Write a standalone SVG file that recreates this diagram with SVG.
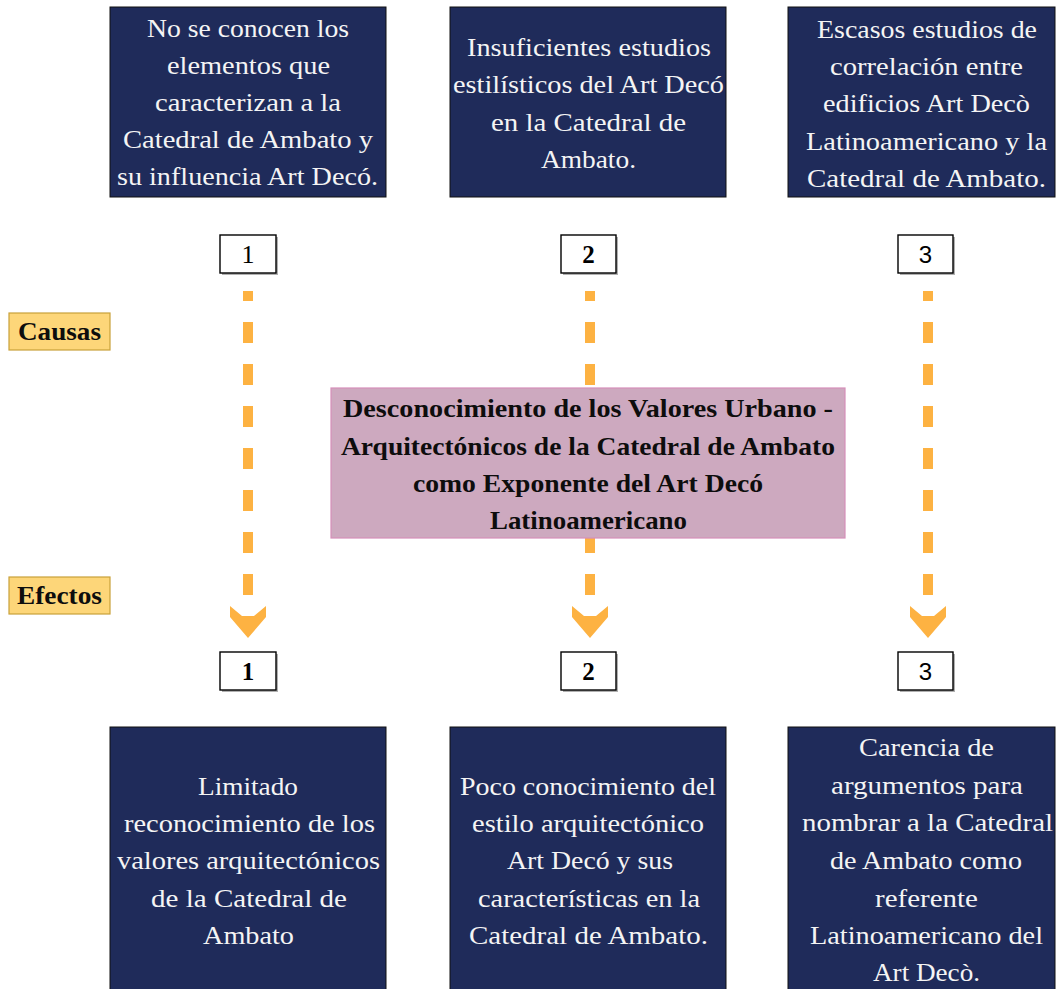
<svg xmlns="http://www.w3.org/2000/svg" width="1057" height="989" viewBox="0 0 1057 989">
<style>
.bg{fill:#ffffff}
.main{fill:#1f2b5a;stroke:#111111;stroke-width:1}
.wt{font-family:"Liberation Serif","DejaVu Serif",serif;font-size:25.5px;fill:#f4f4f4}
.bt{font-family:"Liberation Serif","DejaVu Serif",serif;font-size:25.5px;font-weight:bold;fill:#0d0d0d}
.center{fill:#cda9bf;stroke:#d68fb9;stroke-width:1.2}
.lab{fill:#fdd679;stroke:#c9a13a;stroke-width:1.2}
.num{fill:#ffffff;stroke:#000000;stroke-width:1.4}
.shadow{fill:#b0b0b0}
.ns{font-family:"Liberation Serif",serif;font-size:26px;fill:#000000}
.nsb{font-family:"Liberation Serif",serif;font-size:25px;font-weight:bold;fill:#000000}
.na{font-family:"Liberation Sans",Arial,sans-serif;font-size:24px;fill:#000000}
.dash{stroke:#fdb242;stroke-width:10;fill:none;stroke-dasharray:21 21;stroke-dashoffset:11}
.head{fill:#fdb242}
</style>
<rect class="bg" x="0" y="0" width="1057" height="989"/>

<g id="connectors">
  <path class="dash" d="M248,291 V596"/>
  <path class="dash" d="M590,291 V596"/>
  <path class="dash" d="M928,291 V596"/>
  <polygon class="head" points="230,606 242,616 254,616 266,606 266,617 248,638 230,617"/>
  <polygon class="head" points="572,606 584,616 596,616 608,606 608,617 590,638 572,617"/>
  <polygon class="head" points="910,606 922,616 934,616 946,606 946,617 928,638 910,617"/>
</g>

<g id="cause1">
  <rect class="main" x="110" y="7" width="276" height="190"/>
  <text class="wt" x="147" y="37" textLength="202" lengthAdjust="spacingAndGlyphs">No se conocen los</text>
  <text class="wt" x="167" y="74" textLength="163" lengthAdjust="spacingAndGlyphs">elementos que</text>
  <text class="wt" x="155" y="111" textLength="186" lengthAdjust="spacingAndGlyphs">caracterizan a la</text>
  <text class="wt" x="123" y="148" textLength="250" lengthAdjust="spacingAndGlyphs">Catedral de Ambato y</text>
  <text class="wt" x="117" y="185" textLength="261" lengthAdjust="spacingAndGlyphs">su influencia Art Decó.</text>
</g>

<g id="cause2">
  <rect class="main" x="450" y="7" width="276" height="190"/>
  <text class="wt" x="467" y="56" textLength="244" lengthAdjust="spacingAndGlyphs">Insuficientes estudios</text>
  <text class="wt" x="453" y="93" textLength="271" lengthAdjust="spacingAndGlyphs">estilísticos del Art Decó</text>
  <text class="wt" x="491" y="131" textLength="195" lengthAdjust="spacingAndGlyphs">en la Catedral de</text>
  <text class="wt" x="541" y="168" textLength="95" lengthAdjust="spacingAndGlyphs">Ambato.</text>
</g>

<g id="cause3">
  <rect class="main" x="788" y="7" width="267" height="190"/>
  <text class="wt" x="817" y="38" textLength="220" lengthAdjust="spacingAndGlyphs">Escasos estudios de</text>
  <text class="wt" x="830" y="75" textLength="193" lengthAdjust="spacingAndGlyphs">correlación entre</text>
  <text class="wt" x="823" y="112" textLength="207" lengthAdjust="spacingAndGlyphs">edificios Art Decò</text>
  <text class="wt" x="806" y="150" textLength="241" lengthAdjust="spacingAndGlyphs">Latinoamericano y la</text>
  <text class="wt" x="807" y="187" textLength="239" lengthAdjust="spacingAndGlyphs">Catedral de Ambato.</text>
</g>

<g id="num-top-1">
  <rect class="shadow" x="222" y="237" width="56" height="38"/>
  <rect class="num" x="220" y="235" width="56" height="38"/>
  <text class="ns" x="248" y="263" text-anchor="middle">1</text>
</g>
<g id="num-top-2">
  <rect class="shadow" x="563" y="237" width="55" height="38"/>
  <rect class="num" x="561" y="235" width="55" height="38"/>
  <text class="nsb" x="588.5" y="263" text-anchor="middle">2</text>
</g>
<g id="num-top-3">
  <rect class="shadow" x="900" y="237" width="55" height="38"/>
  <rect class="num" x="898" y="235" width="55" height="38"/>
  <text class="na" x="925.5" y="263" text-anchor="middle">3</text>
</g>

<g id="label-causas">
  <rect class="lab" x="9" y="313" width="101" height="37"/>
  <text class="bt" x="18" y="340" textLength="83" lengthAdjust="spacingAndGlyphs">Causas</text>
</g>
<g id="label-efectos">
  <rect class="lab" x="9" y="577" width="101" height="37"/>
  <text class="bt" x="17" y="604" textLength="85" lengthAdjust="spacingAndGlyphs">Efectos</text>
</g>

<g id="problem">
  <rect class="center" x="331" y="388" width="514" height="150"/>
  <text class="bt" x="343" y="417" textLength="490" lengthAdjust="spacingAndGlyphs">Desconocimiento de los Valores Urbano -</text>
  <text class="bt" x="341" y="455" textLength="494" lengthAdjust="spacingAndGlyphs">Arquitectónicos de la Catedral de Ambato</text>
  <text class="bt" x="413" y="492" textLength="350" lengthAdjust="spacingAndGlyphs">como Exponente del Art Decó</text>
  <text class="bt" x="490" y="529" textLength="197" lengthAdjust="spacingAndGlyphs">Latinoamericano</text>
</g>

<g id="num-bot-1">
  <rect class="shadow" x="222" y="654" width="56" height="38"/>
  <rect class="num" x="220" y="652" width="56" height="38"/>
  <text class="nsb" x="248" y="680" text-anchor="middle">1</text>
</g>
<g id="num-bot-2">
  <rect class="shadow" x="563" y="654" width="55" height="38"/>
  <rect class="num" x="561" y="652" width="55" height="38"/>
  <text class="nsb" x="588.5" y="680" text-anchor="middle">2</text>
</g>
<g id="num-bot-3">
  <rect class="shadow" x="900" y="654" width="55" height="38"/>
  <rect class="num" x="898" y="652" width="55" height="38"/>
  <text class="na" x="925.5" y="680" text-anchor="middle">3</text>
</g>

<g id="effect1">
  <rect class="main" x="110" y="727" width="276" height="270"/>
  <text class="wt" x="198" y="795" textLength="100" lengthAdjust="spacingAndGlyphs">Limitado</text>
  <text class="wt" x="124" y="832" textLength="251" lengthAdjust="spacingAndGlyphs">reconocimiento de los</text>
  <text class="wt" x="117" y="869" textLength="263" lengthAdjust="spacingAndGlyphs">valores arquitectónicos</text>
  <text class="wt" x="151" y="907" textLength="196" lengthAdjust="spacingAndGlyphs">de la Catedral de</text>
  <text class="wt" x="203" y="944" textLength="91" lengthAdjust="spacingAndGlyphs">Ambato</text>
</g>

<g id="effect2">
  <rect class="main" x="450" y="727" width="276" height="270"/>
  <text class="wt" x="460" y="795" textLength="256" lengthAdjust="spacingAndGlyphs">Poco conocimiento del</text>
  <text class="wt" x="472" y="832" textLength="232" lengthAdjust="spacingAndGlyphs">estilo arquitectónico</text>
  <text class="wt" x="507" y="869" textLength="166" lengthAdjust="spacingAndGlyphs">Art Decó y sus</text>
  <text class="wt" x="478" y="907" textLength="222" lengthAdjust="spacingAndGlyphs">características en la</text>
  <text class="wt" x="469" y="944" textLength="239" lengthAdjust="spacingAndGlyphs">Catedral de Ambato.</text>
</g>

<g id="effect3">
  <rect class="main" x="788" y="727" width="267" height="270"/>
  <text class="wt" x="859" y="756" textLength="135" lengthAdjust="spacingAndGlyphs">Carencia de</text>
  <text class="wt" x="831" y="794" textLength="192" lengthAdjust="spacingAndGlyphs">argumentos para</text>
  <text class="wt" x="802" y="831" textLength="251" lengthAdjust="spacingAndGlyphs">nombrar a la Catedral</text>
  <text class="wt" x="830" y="869" textLength="192" lengthAdjust="spacingAndGlyphs">de Ambato como</text>
  <text class="wt" x="875" y="907" textLength="103" lengthAdjust="spacingAndGlyphs">referente</text>
  <text class="wt" x="810" y="944" textLength="233" lengthAdjust="spacingAndGlyphs">Latinoamericano del</text>
  <text class="wt" x="873" y="981" textLength="107" lengthAdjust="spacingAndGlyphs">Art Decò.</text>
</g>
</svg>
